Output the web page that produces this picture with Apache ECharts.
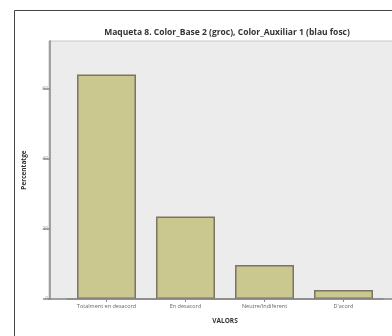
<!DOCTYPE html>
<html><head><meta charset="utf-8">
<script src="https://cdn.jsdelivr.net/npm/echarts@6/dist/echarts.min.js"></script>
<style>html,body{margin:0;padding:0;background:#fff}#c{width:392px;height:336px}</style>
</head><body><div id="c"></div>
<script>
const categories = ["Totalment en desacord", "En desacord", "Neutre/Indiferent", "D'acord"];
const values = [64.1, 23.6, 9.7, 2.6];
const yTicks = [0, 20, 40, 60];
const titleText = "Maqueta 8. Color_Base 2 (groc), Color_Auxiliar 1 (blau fosc)";

const chart = echarts.init(document.getElementById('c'), null, {renderer: 'canvas'});
chart.setOption({
  backgroundColor: '#ffffff',
  animation: false,
  title: {
    text: titleText, left: 222, top: 23, textAlign: 'center',
    textStyle: {fontFamily: 'Open Sans', fontSize: 8.5, fontWeight: 'bold', color: '#333'}
  },
  graphic: [
    {type: 'rect', z: -10, shape: {x: 14.5, y: 10.5, width: 400, height: 400}, style: {fill: '#fff', stroke: '#444', lineWidth: 1}},
    {type: 'rect', z: -5, shape: {x: 49, y: 41, width: 350, height: 258}, style: {fill: '#ececec', stroke: '#c8c8c8', lineWidth: 1}},
    {type: 'line', z: 5, shape: {x1: 48, y1: 299, x2: 392, y2: 299}, style: {stroke: '#8a8a8a', lineWidth: 1.5}}
  ],
  grid: {left: 67, right: 9, top: 41, bottom: 37, outerBoundsMode: 'none', containLabel: false},
  xAxis: {
    type: 'category', data: categories,
    name: 'VALORS', nameLocation: 'middle', nameGap: 19,
    nameTextStyle: {fontFamily: 'Open Sans', fontSize: 6.5, fontWeight: 'bold', color: '#333'},
    axisLine: {show: true, lineStyle: {color: '#8a8a8a', width: 1.5}},
    axisTick: {show: true, alignWithLabel: true, length: 3, lineStyle: {color: '#8a8a8a'}},
    axisLabel: {fontFamily: 'Open Sans', fontSize: 5.5, color: '#666', margin: 4, interval: 0}
  },
  yAxis: {
    type: 'value', min: 0, max: 73.7, interval: 20, offset: 17,
    name: 'Percentatge', nameLocation: 'middle', nameGap: 22,
    nameTextStyle: {fontFamily: 'Open Sans', fontSize: 6.5, fontWeight: 'bold', color: '#333'},
    axisLine: {show: true, lineStyle: {color: '#8a8a8a', width: 1.5}},
    axisTick: {show: true, length: 7, lineStyle: {color: '#8a8a8a', width: 1.5}},
    axisLabel: {fontFamily: 'Open Sans', fontSize: 5, color: '#999', margin: 2, showMaxLabel: false,
      formatter: v => yTicks.includes(v) ? String(v) : ''},
    splitLine: {show: false}
  },
  series: [{
    type: 'bar', data: values, barWidth: 59,
    itemStyle: {color: '#cac78f', borderColor: '#7b7565', borderWidth: 1.5}
  }]
});
</script></body></html>
